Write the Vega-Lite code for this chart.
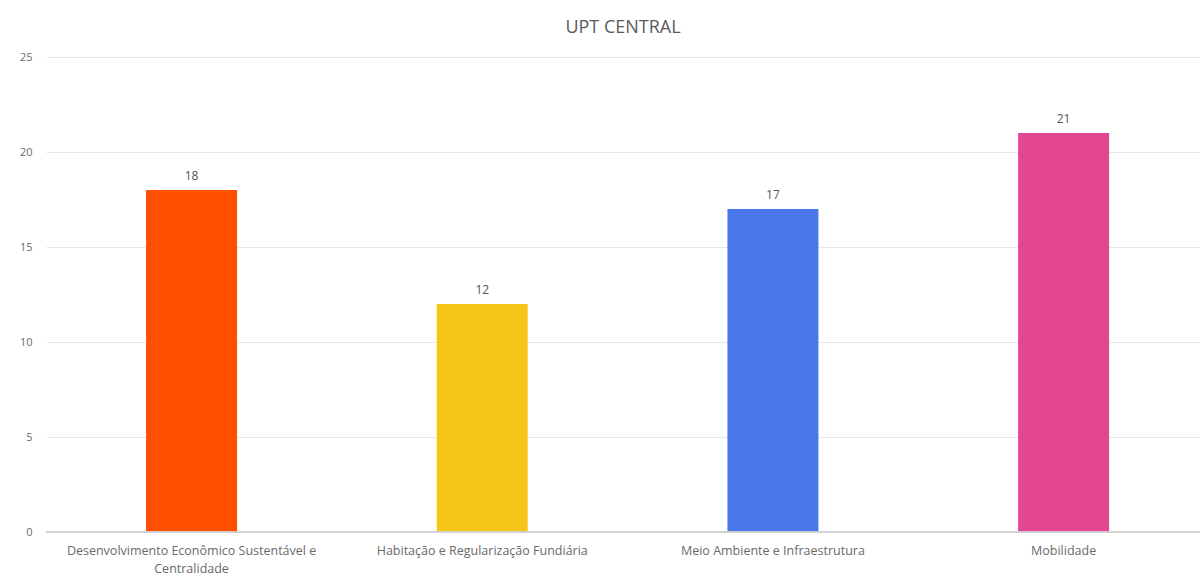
{
  "$schema": "https://vega.github.io/schema/vega-lite/v6.json",
  "width": 1154,
  "height": 475,
  "autosize": {"type": "none"},
  "padding": {"left": 46, "top": 57, "right": 0, "bottom": 44},
  "background": "white",
  "title": {
    "text": "UPT CENTRAL",
    "font": "Open Sans",
    "fontSize": 18,
    "fontWeight": "normal",
    "color": "#5a5a5a",
    "anchor": "middle",
    "offset": 14
  },
  "data": {
    "values": [
      {"tema": "Desenvolvimento Econômico Sustentável e Centralidade", "valor": 18},
      {"tema": "Habitação e Regularização Fundiária", "valor": 12},
      {"tema": "Meio Ambiente e Infraestrutura", "valor": 17},
      {"tema": "Mobilidade", "valor": 21}
    ]
  },
  "config": {
    "view": {"stroke": null},
    "axis": {"labelFont": "Open Sans", "labelColor": "#6a6a6a", "labelFontSize": 11}
  },
  "encoding": {
    "x": {
      "field": "tema",
      "type": "nominal",
      "sort": null,
      "scale": {"paddingInner": 0.687, "paddingOuter": 0.3285, "align": 0.524},
      "axis": {
        "title": null,
        "labelAngle": 0,
        "domain": false,
        "ticks": false,
        "labelPadding": 12,
        "labelFontSize": 12.5,
        "labelLimit": 400,
        "labelLineHeight": 18,
        "labelExpr": "datum.value == 'Desenvolvimento Econômico Sustentável e Centralidade' ? ['Desenvolvimento Econômico Sustentável e', 'Centralidade'] : datum.value"
      }
    },
    "y": {
      "field": "valor",
      "type": "quantitative",
      "scale": {"domain": [0, 25]},
      "axis": {
        "title": null,
        "values": [0, 5, 10, 15, 20, 25],
        "domain": false,
        "ticks": false,
        "gridColor": "#e8e8e8",
        "labelPadding": 14,
        "labelAlign": "right"
      }
    }
  },
  "layer": [
    {
      "mark": {"type": "bar"},
      "encoding": {
        "color": {
          "field": "tema",
          "type": "nominal",
          "sort": null,
          "scale": {
            "domain": [
              "Desenvolvimento Econômico Sustentável e Centralidade",
              "Habitação e Regularização Fundiária",
              "Meio Ambiente e Infraestrutura",
              "Mobilidade"
            ],
            "range": ["#FF5000", "#F5C518", "#4A78EA", "#E2478F"]
          },
          "legend": null
        }
      }
    },
    {
      "mark": {"type": "text", "dy": -14, "font": "Open Sans", "fontSize": 12, "color": "#555555"},
      "encoding": {"text": {"field": "valor", "type": "quantitative"}}
    },
    {
      "mark": {"type": "rule", "color": "#d0d0d0"},
      "encoding": {"y": {"datum": 0}, "x": {"value": 0}, "x2": {"value": 1154}}
    }
  ]
}
